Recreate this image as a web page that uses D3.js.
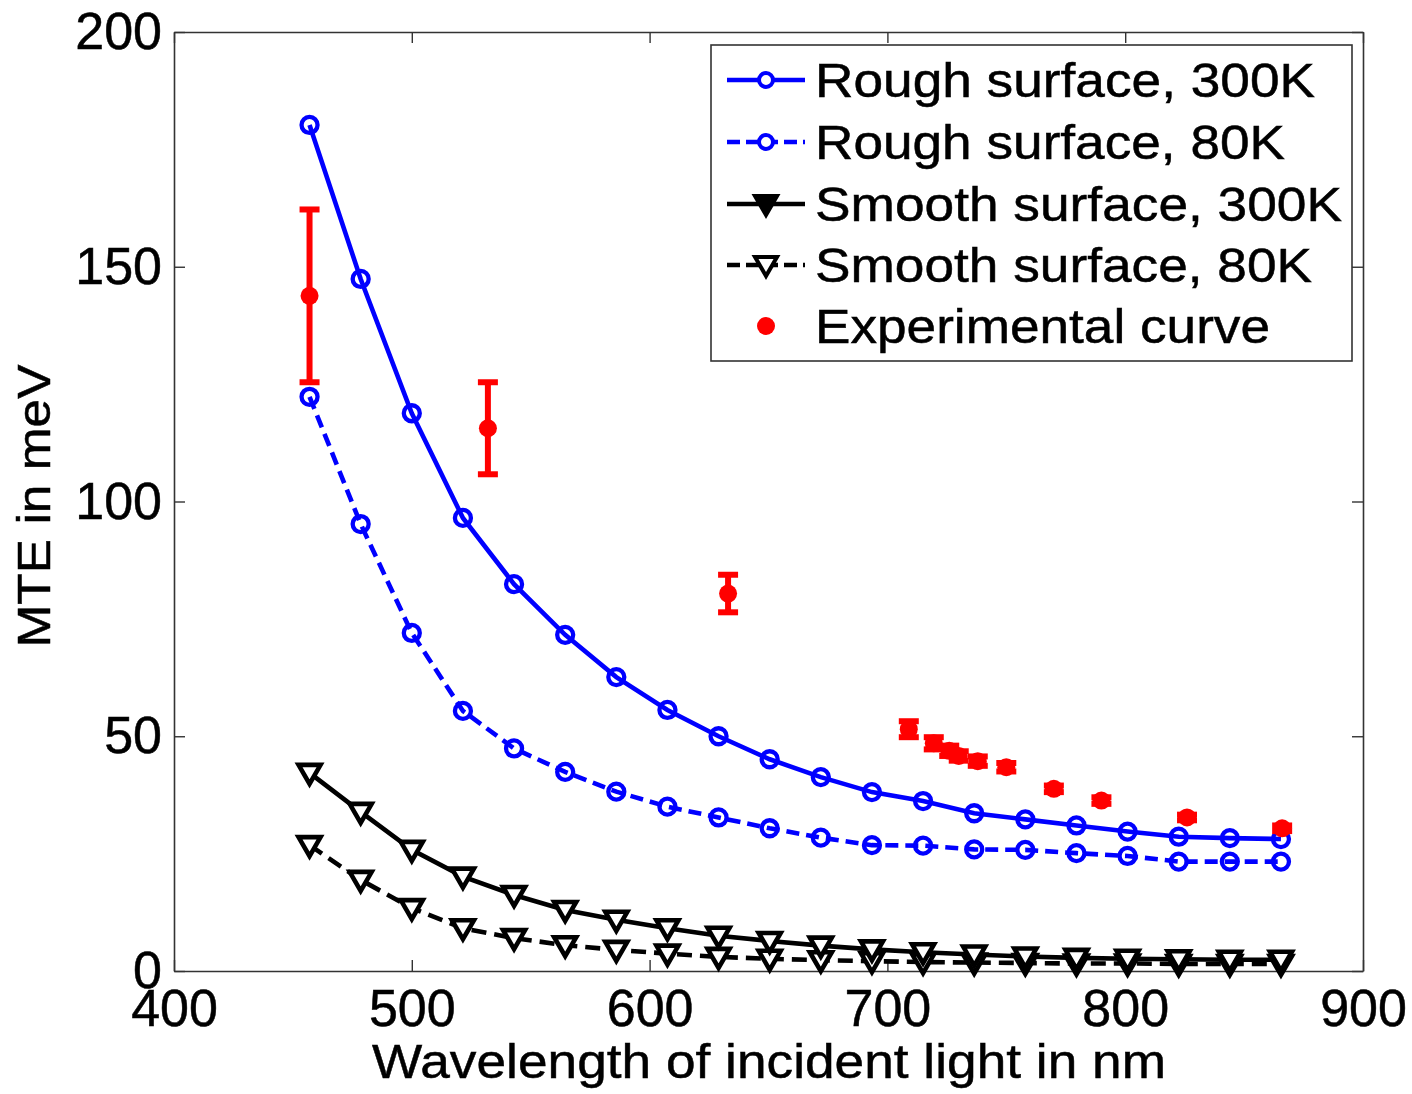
<!DOCTYPE html>
<html>
<head>
<meta charset="utf-8">
<script src="https://cdn.jsdelivr.net/npm/d3@7"></script>
<style>
  body { margin: 0; background: #fff; }
  text { font-family: "Liberation Sans", Arial, Helvetica, sans-serif; stroke: #000; stroke-width: 0.5px; }
</style>
</head>
<body>
<div id="chart"></div>
<script>
// model curves (wavelength in nm, MTE in meV)
const wavelength = [457, 478.5, 500, 521.5, 543, 564.5, 586, 607.5, 629, 650.5,
                    672, 693.5, 715, 736.5, 758, 779.5, 801, 822.5, 844, 865.5];
const rough300 = [180.2, 147.4, 118.8, 96.5, 82.4, 71.6, 62.6, 55.6, 50.0, 45.1,
                  41.3, 38.1, 36.2, 33.6, 32.3, 31.0, 29.7, 28.6, 28.3, 28.1];
const rough80 = [122.3, 95.2, 72.0, 55.4, 47.4, 42.4, 38.2, 35.0, 32.7, 30.4,
                 28.4, 26.8, 26.7, 25.9, 25.8, 25.1, 24.5, 23.3, 23.3, 23.3];
const smooth300 = [42.2, 33.9, 25.8, 20.1, 16.2, 13.0, 10.9, 9.1, 7.5, 6.4,
                   5.4, 4.6, 4.0, 3.5, 3.1, 2.8, 2.6, 2.5, 2.4, 2.4];
const smooth80 = [26.8, 19.4, 13.4, 9.1, 7.0, 5.5, 4.5, 3.7, 3.0, 2.6,
                  2.3, 2.1, 1.9, 1.8, 1.7, 1.6, 1.6, 1.5, 1.5, 1.5];

// experimental points with error bars
const expWavelength = [457, 532, 633, 709, 719.5, 726, 730, 738, 750, 770, 790, 826, 866];
const expMTE = [143.8, 115.6, 80.4, 51.5, 48.5, 46.9, 45.8, 44.7, 43.4, 38.8, 36.3, 32.7, 30.4];
const expErr = [18.4, 9.8, 4.0, 1.7, 1.3, 1.1, 1.0, 1.0, 0.9, 0.7, 0.7, 0.6, 0.6];

const xTicks = [400, 500, 600, 700, 800, 900];
const yTicks = [0, 50, 100, 150, 200];
const legendLabels = ["Rough surface, 300K", "Rough surface, 80K",
                      "Smooth surface, 300K", "Smooth surface, 80K", "Experimental curve"];

const W = 1412, H = 1094;
const margin = { top: 32, right: 49, bottom: 123, left: 174 };
const width = W - margin.left - margin.right;
const height = H - margin.top - margin.bottom;

const svg = d3.select("#chart").append("svg")
    .attr("width", W)
    .attr("height", H);

const g = svg.append("g")
    .attr("transform", "translate(" + margin.left + "," + margin.top + ")");

const x = d3.scaleLinear().domain([400, 900]).range([0, width]);
const y = d3.scaleLinear().domain([0, 200]).range([height, 0]);

// axes: matlab-style box, ticks pointing in
function styleAxis(sel) {
    sel.selectAll("path.domain").attr("stroke", "#333").attr("stroke-width", 1.6);
    sel.selectAll(".tick line").attr("stroke", "#333").attr("stroke-width", 1.4);
    sel.selectAll(".tick text").attr("fill", "#000").style("font-size", "52px")
        .style("font-family", '"Liberation Sans", Arial, sans-serif');
}

g.append("g")
    .attr("transform", "translate(0," + height + ")")
    .call(d3.axisBottom(x).tickValues(xTicks).tickSize(-11).tickSizeOuter(0).tickPadding(18))
    .call(styleAxis);
g.append("g")
    .call(d3.axisTop(x).tickValues(xTicks).tickSize(-11).tickSizeOuter(0).tickFormat(""))
    .call(styleAxis);
g.append("g")
    .call(d3.axisLeft(y).tickValues(yTicks).tickSize(-11).tickSizeOuter(0).tickPadding(12))
    .call(styleAxis);
g.append("g")
    .attr("transform", "translate(" + width + ",0)")
    .call(d3.axisRight(y).tickValues(yTicks).tickSize(-11).tickSizeOuter(0).tickFormat(""))
    .call(styleAxis);

// axis titles
svg.append("text")
    .attr("x", 372)
    .attr("y", 1078)
    .attr("textLength", 794)
    .attr("lengthAdjust", "spacingAndGlyphs")
    .style("font-size", "49px")
    .text("Wavelength of incident light in nm");

svg.append("text")
    .attr("transform", "translate(50,506)rotate(-90)")
    .attr("text-anchor", "middle")
    .attr("textLength", 283)
    .attr("lengthAdjust", "spacingAndGlyphs")
    .style("font-size", "46px")
    .text("MTE in meV");

// markers
const triPath = "M-11,-8L11,-8L0,11Z";

const series = [
    { vals: rough300, color: "#0000ff", dash: null, marker: "circle" },
    { vals: rough80, color: "#0000ff", dash: "13,7", marker: "circle" },
    { vals: smooth300, color: "#000", dash: null, marker: "tri" },
    { vals: smooth80, color: "#000", dash: "15,8", marker: "tri" }
];

const line = d3.line()
    .x(d => x(d[0]))
    .y(d => y(d[1]));

series.slice().reverse().forEach(s => {
    const pts = wavelength.map((w, i) => [w, s.vals[i]]);
    const sg = g.append("g");
    sg.append("path")
        .datum(pts)
        .attr("fill", "none")
        .attr("stroke", s.color)
        .attr("stroke-width", 4.6)
        .attr("stroke-dasharray", s.dash)
        .attr("d", line);
    if (s.marker == "circle") {
        sg.selectAll("circle").data(pts).enter().append("circle")
            .attr("cx", d => x(d[0]))
            .attr("cy", d => y(d[1]))
            .attr("r", 8)
            .attr("fill", "none")
            .attr("stroke", s.color)
            .attr("stroke-width", 4.3);
    } else {
        sg.selectAll("path.mk").data(pts).enter().append("path")
            .attr("class", "mk")
            .attr("transform", d => "translate(" + x(d[0]) + "," + y(d[1]) + ")")
            .attr("d", triPath)
            .attr("fill", "#fff")
            .attr("stroke", s.color)
            .attr("stroke-width", 4.6)
            .attr("stroke-linejoin", "miter");
    }
});

// experimental data with error bars
const expG = g.append("g");
const expData = expWavelength.map((w, i) => ({ w: w, v: expMTE[i], e: expErr[i] }));
const capW = 10;
expG.selectAll("line.bar").data(expData).enter().append("line")
    .attr("x1", d => x(d.w)).attr("x2", d => x(d.w))
    .attr("y1", d => y(d.v - d.e)).attr("y2", d => y(d.v + d.e))
    .attr("stroke", "#ff0000").attr("stroke-width", 6);
expG.selectAll("line.capt").data(expData).enter().append("line")
    .attr("x1", d => x(d.w) - capW).attr("x2", d => x(d.w) + capW)
    .attr("y1", d => y(d.v + d.e)).attr("y2", d => y(d.v + d.e))
    .attr("stroke", "#ff0000").attr("stroke-width", 6);
expG.selectAll("line.capb").data(expData).enter().append("line")
    .attr("x1", d => x(d.w) - capW).attr("x2", d => x(d.w) + capW)
    .attr("y1", d => y(d.v - d.e)).attr("y2", d => y(d.v - d.e))
    .attr("stroke", "#ff0000").attr("stroke-width", 6);
expG.selectAll("circle").data(expData).enter().append("circle")
    .attr("cx", d => x(d.w))
    .attr("cy", d => y(d.v))
    .attr("r", 9)
    .attr("fill", "#ff0000");

// legend
const legend = svg.append("g");
legend.append("rect")
    .attr("x", 711).attr("y", 45)
    .attr("width", 641).attr("height", 316)
    .attr("fill", "#fff")
    .attr("stroke", "#333")
    .attr("stroke-width", 1.6);

const rowY = [80, 142, 204, 265, 326];
legendLabels.forEach((lab, i) => {
    const cy = rowY[i];
    const row = legend.append("g");
    if (i < 4) {
        const s = series[i];
        row.append("line")
            .attr("x1", 727).attr("x2", 805)
            .attr("y1", cy).attr("y2", cy)
            .attr("stroke", s.color)
            .attr("stroke-width", 4.6)
            .attr("stroke-dasharray", s.dash ? "13,6" : null);
        if (s.marker == "circle") {
            row.append("circle")
                .attr("cx", 766).attr("cy", cy).attr("r", 7)
                .attr("fill", "#fff")
                .attr("stroke", s.color).attr("stroke-width", 4);
        } else {
            row.append("path")
                .attr("transform", "translate(766," + cy + ")")
                .attr("d", triPath)
                .attr("fill", i == 2 ? "#000" : "#fff")
                .attr("stroke", s.color).attr("stroke-width", 4);
        }
    } else {
        row.append("circle")
            .attr("cx", 766).attr("cy", cy).attr("r", 9)
            .attr("fill", "#ff0000");
    }
    const lengths = [500, 470, 527, 497, 455];
    row.append("text")
        .attr("x", 815)
        .attr("y", cy + 17)
        .attr("textLength", lengths[i])
        .attr("lengthAdjust", "spacingAndGlyphs")
        .style("font-size", "48px")
        .text(lab);
});
</script>
</body>
</html>
